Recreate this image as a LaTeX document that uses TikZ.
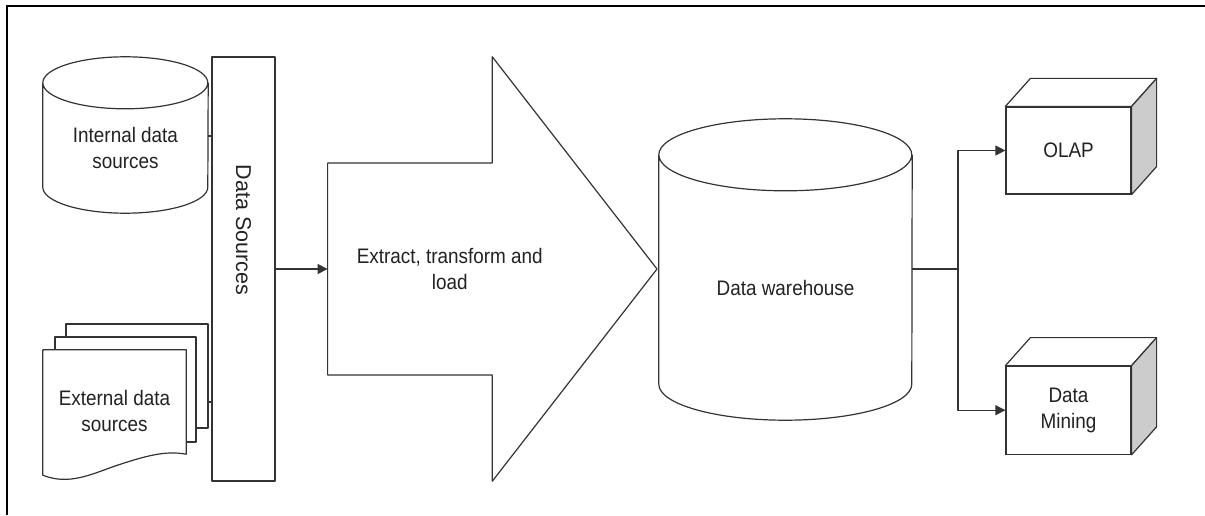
\documentclass[tikz,border=0pt]{standalone}
\usepackage{fontspec}
\setmainfont{Liberation Sans}[FakeStretch=0.9]
\newfontfamily\sidefont{Liberation Sans}
\usepackage{tikz}
\usetikzlibrary{arrows.meta, backgrounds, calc, positioning}
\usepackage{xcolor}
\definecolor{Ink}{HTML}{333333}
\definecolor{TextInk}{HTML}{222222}
\definecolor{CubeSide}{HTML}{CCCCCC}
\tikzset{%
  label_box/.style={%
    rectangle,%
    inner sep=0pt,%
    align=center,%
    text=TextInk,%
    font={\fontsize{21}{26}\selectfont},%
  },
  outline/.style={%
    draw=Ink,%
    line width=1.2pt,%
    line join=round,%
  },
  sheet/.style={%
    draw=Ink,%
    fill=white,%
    line width=1.2pt,%
    line join=round,%
  },
  cube_face/.style={%
    draw=Ink,%
    fill=white,%
    line width=1.2pt,%
  },
  flow_path/.style={%
    draw=Ink,%
    line width=1.2pt,%
    line join=round,%
  },
  arrow/.style={-{Triangle[length=10pt, width=10pt]}},
  frame_line/.style={%
    draw=black,%
    line width=2.5pt,%
  },
}

\begin{document}
\begin{tikzpicture}[x=1pt, y=1pt]
    \useasboundingbox (0,0) rectangle (1205,515);
    \draw [frame_line] (7,0) -- (7,509) -- (1205,509);

    % sources
    \node [label_box, minimum width=165pt, minimum height=130pt] (internal) at (125.5,367) {Internal data\\sources};
    \draw [outline]
      (internal.north west)
      arc [start angle=180, end angle=-180, x radius=82.5, y radius=26]
      --
      ([yshift=26pt]internal.south west)
      arc [start angle=180, end angle=360, x radius=82.5, y radius=26]
      --
      (internal.north east);

    \node [label_box, minimum width=143pt, minimum height=122pt] (ext) at (114.5,104) {External data\\sources};
    \begin{scope}[on background layer]
      \node [sheet, minimum width=142pt, minimum height=104pt] (ext3) at (137,139) {};
      \node [sheet, minimum width=141pt, minimum height=105pt] (ext2) at (125.5,125.5) {};
      \draw [sheet]
        ([yshift=-3pt]ext.south west)
        -- (ext.north west)
        -- (ext.north east)
        -- ([yshift=18pt]ext.south east)
        .. controls +(-21,4) and +(30,10) .. ([yshift=6pt]ext.south)
        .. controls +(-25,-9) and +(25,-10) .. ([yshift=-3pt]ext.south west)
        -- cycle;
    \end{scope}

    \node [outline, minimum width=63pt, minimum height=424pt] (ds) at (243.5,246) {};
    \node [label_box, rotate=-90, font={\sidefont\fontsize{21.5}{26}\selectfont}] (ds_label) at ([yshift=39pt]ds.center) {Data Sources};

    \coordinate (int_out) at ([yshift=12pt]internal.east);
    \coordinate (ext_out) at ([yshift=-26pt]ext3.east);
    \draw [flow_path] (int_out) -- (int_out -| ds.west);
    \draw [flow_path] (ext_out) -- (ext_out -| ds.west);

    % etl
    \node [inner sep=0pt, minimum width=329pt, minimum height=424pt, right=52pt of ds] (etl) {};
    \draw [outline]
      ([yshift=106pt]etl.west)
      -- ([yshift=106pt]etl.west -| etl.north)
      -- (etl.north)
      -- (etl.east)
      -- (etl.south)
      -- ([yshift=-106pt]etl.west -| etl.south)
      -- ([yshift=-106pt]etl.west)
      -- cycle;
    \node [label_box] (etl_label) at ([xshift=-42.5pt]etl.center) {Extract, transform and\\load};

    \draw [flow_path, arrow] (ds.east) -- (etl.west);

    % warehouse
    \node [label_box, minimum width=253pt, minimum height=265pt] (dw) at (785.5,227.5) {Data warehouse};
    \draw [outline]
      (dw.north west)
      arc [start angle=180, end angle=-180, x radius=126.5, y radius=36]
      --
      ([yshift=36pt]dw.south west)
      arc [start angle=180, end angle=360, x radius=126.5, y radius=36]
      --
      (dw.north east);

    % outputs
    \node [label_box, cube_face, minimum width=125pt, minimum height=87pt] (olap) at (1068.5,364.5) {OLAP};
    \node [label_box, cube_face, minimum width=125pt, minimum height=88pt, below=171pt of olap] (mining) {Data\\Mining};

    \draw [sheet]
      (olap.north west) -- ([shift={(25,28)}]olap.north west)
      -- ([shift={(25,28)}]olap.north east) -- (olap.north east) -- cycle;
    \draw [sheet, fill=CubeSide]
      (olap.north east) -- ([shift={(25,28)}]olap.north east)
      -- ([shift={(25,28)}]olap.south east) -- (olap.south east) -- cycle;
    \draw [sheet]
      (mining.north west) -- ([shift={(25,28)}]mining.north west)
      -- ([shift={(25,28)}]mining.north east) -- (mining.north east) -- cycle;
    \draw [sheet, fill=CubeSide]
      (mining.north east) -- ([shift={(25,28)}]mining.north east)
      -- ([shift={(25,28)}]mining.south east) -- (mining.south east) -- cycle;

    \coordinate (split) at (958,246);
    \draw [flow_path, arrow] (dw.east |- split) -- (split) |- (olap.west);
    \draw [flow_path, arrow] (split) |- (mining.west);
\end{tikzpicture}
\end{document}
